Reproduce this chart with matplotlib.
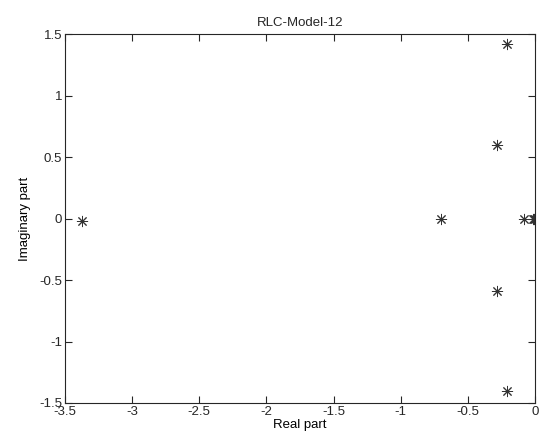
import matplotlib.pyplot as plt

# poles
real_part = [-3.37, -0.70, -0.205, -0.205, -0.28, -0.28, -0.08, -0.012, -0.006, 0.0]
imag_part = [-0.02, 0.0, 1.42, -1.40, 0.595, -0.59, 0.0, 0.0, 0.0, 0.0]

xticks = [-3.5, -3, -2.5, -2, -1.5, -1, -0.5, 0]
yticks = [-1.5, -1, -0.5, 0, 0.5, 1, 1.5]

plt.rcParams['font.family'] = ['Liberation Sans', 'DejaVu Sans']
plt.rcParams['font.size'] = 9.5
plt.rcParams['text.color'] = '#262626'

fig = plt.figure(figsize=(5.39, 4.43), dpi=100)
ax = fig.add_axes([0.1206, 0.0903, 0.872, 0.8327])

ax.plot(real_part, imag_part, linestyle='none', marker=(8, 2, 0),
        markersize=8, markeredgecolor='#333333', markeredgewidth=0.7)

ax.set_xlim(-3.5, 0)
ax.set_ylim(-1.5, 1.5)
ax.set_xticks(xticks)
ax.set_yticks(yticks)
ax.set_xticklabels(['-3.5', '-3', '-2.5', '-2', '-1.5', '-1', '-0.5', '0'])
ax.set_yticklabels(['-1.5', '-1', '-0.5', '0', '0.5', '1', '1.5'])
ax.tick_params(direction='in', length=5, width=0.8, top=True, right=True,
               pad=2, colors='#262626')
for s in ax.spines.values():
    s.set_linewidth(0.8)
    s.set_color('#262626')

ax.set_title('RLC-Model-12', fontsize=9.5, pad=6)
ax.set_xlabel('Real part', labelpad=1)
ax.set_ylabel('Imaginary part', labelpad=6)

fig.savefig('out.png', dpi=100)
